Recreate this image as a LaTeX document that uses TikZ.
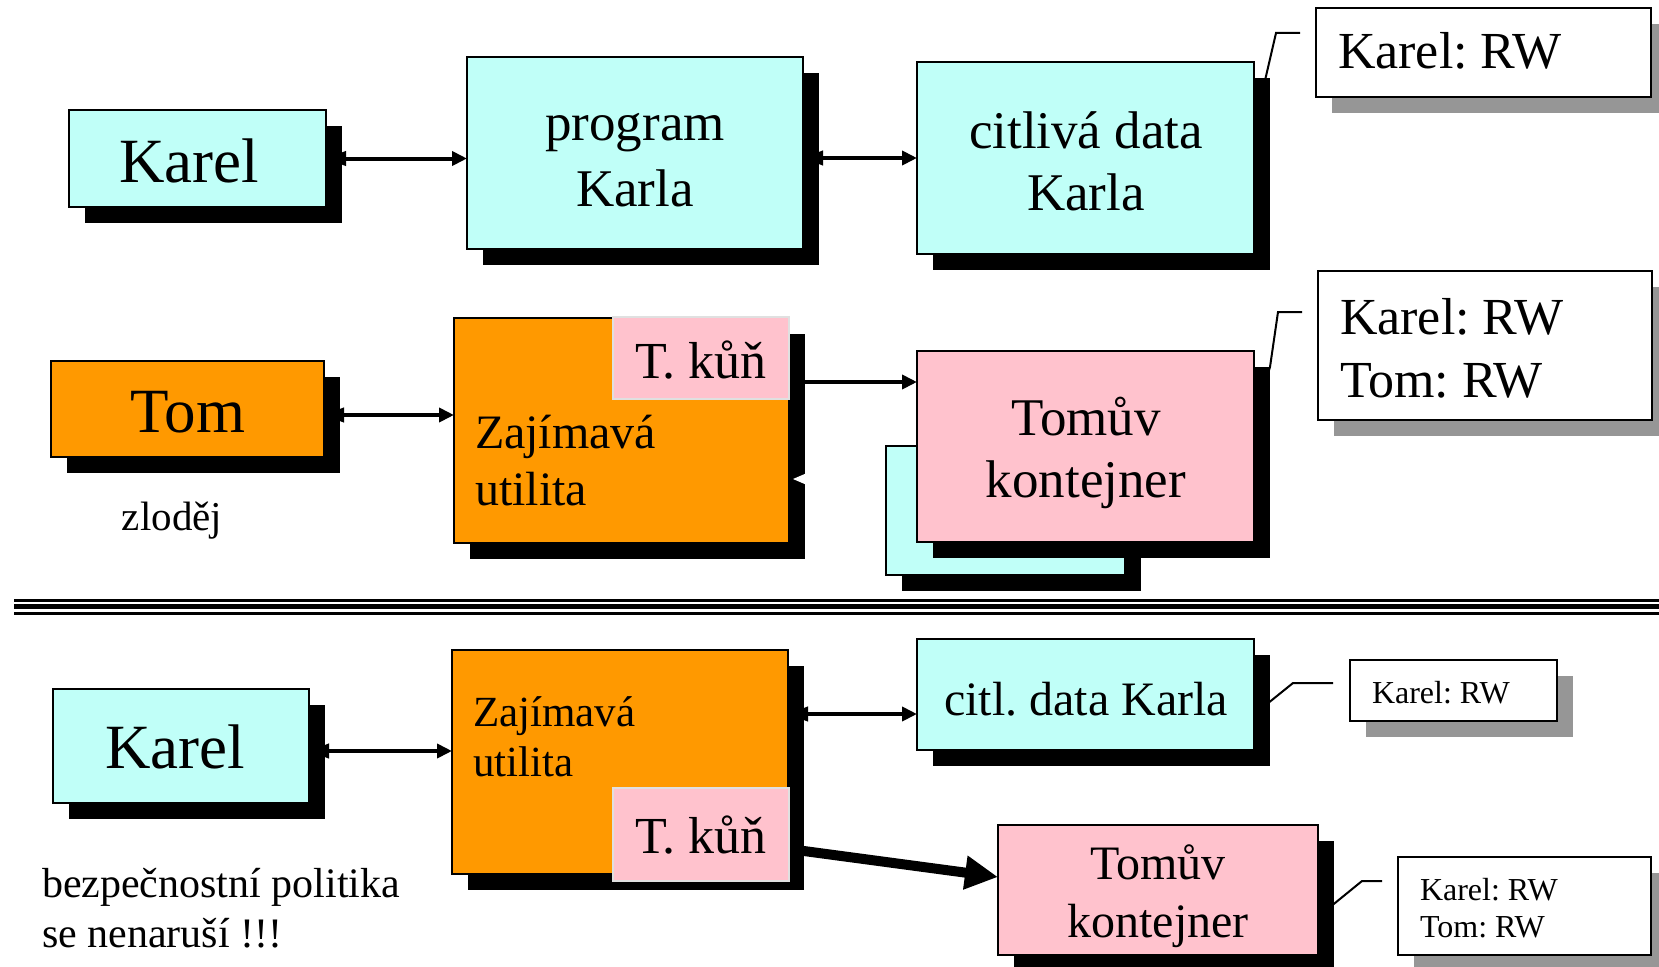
\documentclass[tikz,border=0pt]{standalone}
\usepackage{fontspec}
\setmainfont{Liberation Serif}
\frenchspacing
\usetikzlibrary{shadows,arrows.meta}
\definecolor{cy}{RGB}{192,255,248}
\definecolor{pk}{RGB}{255,194,205}
\definecolor{og}{RGB}{255,153,0}
\definecolor{gs}{RGB}{150,150,150}
\pgfdeclarelayer{bg}
\pgfsetlayers{bg,main}
\tikzset{
  box/.style={draw=black, line width=2pt, inner sep=0pt, outer sep=0pt, anchor=north west},
  bshadow/.style={drop shadow={shadow xshift=16pt, shadow yshift=-16pt, fill=black, opacity=1}},
  gshadow/.style={drop shadow={shadow xshift=16pt, shadow yshift=-16pt, fill=gs, opacity=1}},
  cbox/.style={box, fill=cy, bshadow},
  obox/.style={box, fill=og, bshadow},
  pbox/.style={box, fill=pk, bshadow},
  kbox/.style={box, fill=pk, draw=black!12},
  wbox/.style={box, fill=white, gshadow},
  sarrow/.style={line width=4pt, -{Triangle[length=15pt,width=14pt]}},
  darrow/.style={line width=4pt, {Triangle[length=20pt,width=14pt]}-{Triangle[length=15pt,width=14pt]}},
  bigarrow/.style={line width=10pt, -{Triangle[length=33pt,width=32pt]}},
  callout/.style={line width=2pt, line join=miter},
  txt/.style={inner sep=0pt, outer sep=0pt, anchor=base},
  ltxt/.style={inner sep=0pt, outer sep=0pt, anchor=base west},
  f63/.style={font=\fontsize{63}{70}\selectfont},
  f53/.style={font=\fontsize{53}{60}\selectfont},
  f52/.style={font=\fontsize{52}{60}\selectfont},
  f48/.style={font=\fontsize{48}{56}\selectfont},
  f43/.style={font=\fontsize{43}{50}\selectfont},
  f42/.style={font=\fontsize{42}{50}\selectfont},
  f41/.style={font=\fontsize{41}{48}\selectfont},
  f32/.style={font=\fontsize{32}{38}\selectfont},
}
\begin{document}
\begin{tikzpicture}[x=1pt,y=-1pt]
\useasboundingbox (0,0) rectangle (1659,966);

% ---------- row 1 ----------
\node[cbox, minimum width=257pt, minimum height=97pt] (K1) at (69,110) {};
\node[txt,f63] (k1t) at (189,182) {Karel};
\node[cbox, minimum width=336pt, minimum height=192pt] (P) at (467,57) {};
\node[txt,f53] (pt1) at (635,140) {program};
\node[txt,f53] (pt2) at (635,206) {Karla};
\node[cbox, minimum width=337pt, minimum height=192pt] (C) at (917,62) {};
\node[txt,f53] (ct1) at (1086,148) {citlivá data};
\node[txt,f53] (ct2) at (1086,210) {Karla};
\node[wbox, minimum width=335pt, minimum height=89pt] (CO1) at (1316,8) {};
\node[ltxt,f52] (co1t) at (1338,68) {Karel: RW};

% ---------- row 2 ----------
\node[obox, minimum width=273pt, minimum height=96pt] (TOM) at (51,361) {};
\node[txt,f63] (tt) at (188,432) {Tom};
\node[txt,f41] (zl) at (172,530) {zloděj};
\node[obox, minimum width=335pt, minimum height=225pt] (Z2) at (454,318) {};
\node[ltxt,f48] (z2t1) at (475,448) {Zajímavá};
\node[ltxt,f48] (z2t2) at (475,505) {utilita};
\node[kbox, minimum width=176pt, minimum height=82pt] (T2) at (613,317) {};
\node[txt,f52] (t2t) at (701,378) {T. kůň};
\fill[white] (793,479) -- (807,473) -- (807,485) -- cycle;
\node[cbox, minimum width=239pt, minimum height=129pt] (CB) at (886,446) {};
\node[pbox, minimum width=337pt, minimum height=191pt] (TK2) at (917,351) {};
\node[txt,f53] (tk2t1) at (1086,435) {Tomův};
\node[txt,f53] (tk2t2) at (1086,497) {kontejner};
\node[wbox, minimum width=334pt, minimum height=149pt] (CO2) at (1318,271) {};
\node[ltxt,f52] (co2t1) at (1340,334) {Karel: RW};
\node[ltxt,f52] (co2t2) at (1340,397) {Tom: RW};

% ---------- separator ----------
\draw[line width=3pt] (14,600) -- (1659,600);
\draw[line width=5pt] (14,606.5) -- (1659,606.5);
\draw[line width=3pt] (14,613.3) -- (1659,613.3);

% ---------- row 3 ----------
\node[cbox, minimum width=256pt, minimum height=114pt] (K3) at (53,689) {};
\node[txt,f63] (k3t) at (175,768) {Karel};
\node[ltxt,f42] (bp1) at (42,897) {bezpečnostní politika};
\node[ltxt,f42] (bp2) at (42,947) {se nenaruší !!!};
\node[obox, minimum width=336pt, minimum height=224pt] (Z3) at (452,650) {};
\node[ltxt,f43] (z3t1) at (473,726) {Zajímavá};
\node[ltxt,f43] (z3t2) at (473,776) {utilita};
\node[kbox, minimum width=176pt, minimum height=93pt] (T3) at (613,788) {};
\node[txt,f52] (t3t) at (701,853) {T. kůň};
\node[cbox, minimum width=337pt, minimum height=111pt] (CD) at (917,639) {};
\node[txt,f48] (cdt) at (1086,715) {citl. data Karla};
\node[wbox, minimum width=207pt, minimum height=61pt] (CO3) at (1350,660) {};
\node[ltxt,f32] (co3t) at (1372,703) {Karel: RW};
\node[pbox, minimum width=320pt, minimum height=130pt] (TK3) at (998,825) {};
\node[txt,f48] (tk3t1) at (1158,879) {Tomův};
\node[txt,f48] (tk3t2) at (1158,937) {kontejner};
\node[wbox, minimum width=253pt, minimum height=98pt] (CO4) at (1398,857) {};
\node[ltxt,f32] (co4t1) at (1420,900) {Karel: RW};
\node[ltxt,f32] (co4t2) at (1420,937) {Tom: RW};

% ---------- connectors (behind shadows) ----------
\coordinate (c1a) at (1276,33);  \coordinate (c1b) at (1300,33);
\coordinate (c2a) at (1270,367); \coordinate (c2b) at (1278,312); \coordinate (c2c) at (1302,312);
\coordinate (c3a) at (1293,683); \coordinate (c3b) at (1333,683);
\coordinate (c4a) at (1335,903); \coordinate (c4b) at (1362,881); \coordinate (c4c) at (1382,881);
\coordinate (ta) at (789,849);
\coordinate (tb) at (998,877);
\begin{pgfonlayer}{bg}
  \draw[darrow] (K1.east) -- (K1.east -| P.west);
  \draw[darrow] (P.east |- 0,158) -- (C.west |- 0,158);
  \draw[darrow] (TOM.east |- 0,415) -- (Z2.west |- 0,415);
  \draw[sarrow] (T2.east |- 0,382) -- (TK2.west |- 0,382);
  \draw[darrow] (K3.east |- 0,751) -- (Z3.west |- 0,751);
  \draw[darrow] (Z3.east |- 0,714) -- (CD.west |- 0,714);
  \draw[bigarrow] (ta) -- (tb);
  \draw[callout] ([yshift=30pt]C.east) -- (c1a) -- (c1b);
  \draw[callout] ([yshift=30pt]TK2.east) -- (c2a) -- (c2b) -- (c2c);
  \draw[callout] ([yshift=-20pt]CD.east) -- (c3a) -- (c3b);
  \draw[callout] ([yshift=-27pt]TK3.east) -- (c4a) -- (c4b) -- (c4c);
\end{pgfonlayer}
\end{tikzpicture}
\end{document}
